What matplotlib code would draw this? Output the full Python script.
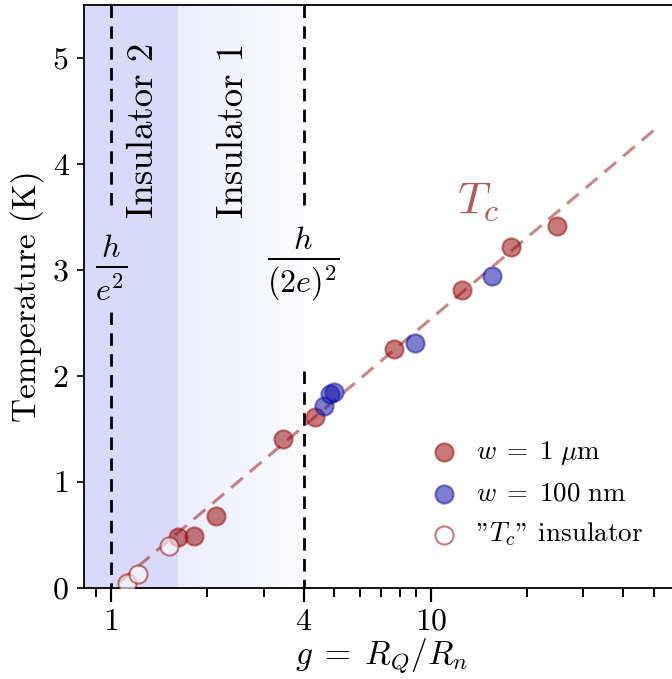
import numpy as np
import matplotlib
matplotlib.use("Agg")
import matplotlib.pyplot as plt
from matplotlib.ticker import FixedLocator, NullFormatter, FixedFormatter

plt.rcParams['font.family'] = ['cmr10', 'DejaVu Serif']
plt.rcParams['mathtext.fontset'] = 'cm'
plt.rcParams['axes.unicode_minus'] = False

# ---- data ----
g_1um = [1.617, 1.814, 2.13, 3.44, 4.33, 7.69, 12.53, 17.77, 24.83]
T_1um = [0.479, 0.491, 0.674, 1.403, 1.609, 2.251, 2.811, 3.214, 3.411]
g_100nm = [4.64, 4.84, 4.99, 8.93, 15.55]
T_100nm = [1.719, 1.83, 1.846, 2.311, 2.944]
g_ins = [1.12, 1.215, 1.52]
T_ins = [0.047, 0.133, 0.396]
fit_g = [1.06, 50.0]
fit_T = [0.05, 4.32]
ins2_range = [0.5, 1.617]
ins1_range = [1.617, 4.0]
quantum_lines = [1.0, 4.0]
xticks_major = [1, 4, 10]
xticks_minor = [0.9, 2, 3, 5, 6, 7, 8, 9, 20, 30, 40, 50]
yticks = [0, 1, 2, 3, 4, 5]

red = (0.60, 0.05, 0.05)
blue = (0.08, 0.08, 0.67)

W, H = 672, 679
fig = plt.figure(figsize=(W / 100, H / 100), dpi=100)
ax = fig.add_axes([84 / W, 1 - 587.7 / H, (679.5 - 84) / W, (587.7 - 5) / H])
ax.set_xscale('log')
ax.set_xlim(0.823, 60)
ax.set_ylim(0, 5.5)

# shaded regions
ax.axvspan(ins2_range[0], ins2_range[1], color='#d9d9fa', lw=0, zorder=0)
edges = np.logspace(np.log10(ins1_range[0]), np.log10(ins1_range[1]), 61)
c0 = np.array([0.925, 0.925, 0.995])
c1 = np.array([0.985, 0.985, 1.0])
for i in range(len(edges) - 1):
    t = i / (len(edges) - 2)
    ax.axvspan(edges[i], edges[i + 1], color=tuple(c0 + (c1 - c0) * t), lw=0, zorder=0)

# vertical dashed lines with gaps for labels
kw = dict(color='k', lw=2, ls='--', dashes=(4.5, 3), zorder=1)
ax.plot([quantum_lines[0]] * 2, [5.5, 3.58], **kw)
ax.plot([quantum_lines[0]] * 2, [2.6, 0], **kw)
ax.plot([quantum_lines[1]] * 2, [5.5, 3.56], **kw)
ax.plot([quantum_lines[1]] * 2, [2.05, 0], **kw)

ax.text(quantum_lines[0], 3.02, r'$\frac{h}{e^2}$', fontsize=33, ha='center', va='center')
ax.text(quantum_lines[1], 3.05, r'$\frac{h}{(2e)^2}$', fontsize=33, ha='center', va='center')
ax.text(1.259, 4.32, 'Insulator 2', rotation=90, fontsize=26.5, ha='center', va='center')
ax.text(2.41, 4.32, 'Insulator 1', rotation=90, fontsize=26.5, ha='center', va='center')

# fit line
ax.plot(fit_g, fit_T, '--', color=red, alpha=0.5, lw=2.2, dashes=(5, 3), zorder=2)
ax.text(14.06, 3.63, r'$T_c$', fontsize=33, color=(0.72, 0.35, 0.35), ha='center', va='center')

ms = 170
ax.scatter(g_1um, T_1um, s=ms, color=red, alpha=0.55, lw=1.5, zorder=3, label=r'$w \;=\; 1\ \mu\mathrm{m}$')
ax.scatter(g_100nm, T_100nm, s=ms, color=blue, alpha=0.55, lw=1.5, zorder=3, label=r'$w \;=\; 100\ \mathrm{nm}$')
ax.scatter(g_ins, T_ins, s=ms, facecolor=(1, 1, 1, 0.6), edgecolor=(0.60, 0.05, 0.05, 0.55), lw=1.5, zorder=3,
           label='"' + r'$T_c$' + '" insulator')

leg = ax.legend(loc='lower right', bbox_to_anchor=(0.97, 0.035), frameon=False, fontsize=19.5,
                handletextpad=0.55, labelspacing=0.55, borderpad=0.2, handlelength=1.2)

# ticks
ax.xaxis.set_major_locator(FixedLocator(xticks_major))
ax.xaxis.set_major_formatter(FixedFormatter([str(v) for v in xticks_major]))
ax.xaxis.set_minor_locator(FixedLocator(xticks_minor))
ax.xaxis.set_minor_formatter(NullFormatter())
ax.set_yticks(yticks)
ax.tick_params(axis='x', which='major', length=10, width=1.6, labelsize=23, pad=5)
ax.tick_params(axis='x', which='minor', length=6.5, width=1.4)
ax.tick_params(axis='y', which='major', length=5, width=1.2, labelsize=23, pad=6)

ax.spines['right'].set_visible(False)
for s in ['top', 'bottom', 'left']:
    ax.spines[s].set_linewidth(1.3)

ax.set_xlabel(r'$g \;=\; R_Q/R_n$', fontsize=24, labelpad=0)
ax.set_ylabel('Temperature (K)', fontsize=24, labelpad=6)

fig.savefig('out.png', dpi=100)
